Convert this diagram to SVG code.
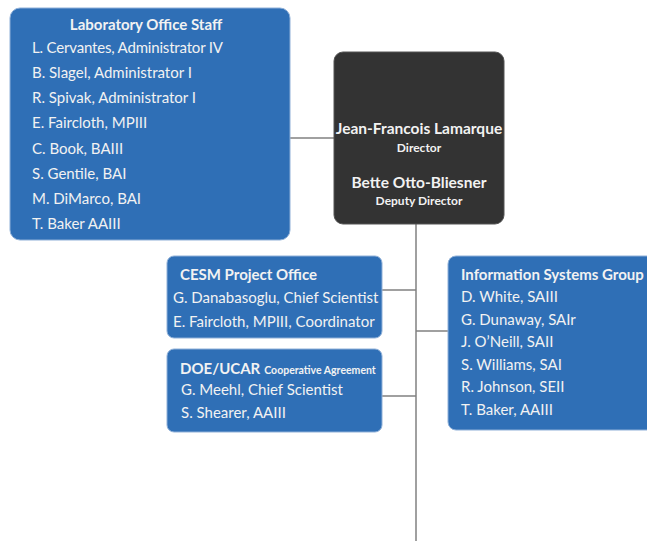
<svg xmlns="http://www.w3.org/2000/svg" width="647" height="541" viewBox="0 0 647 541">
<style>
.box{fill:#2f6fb6;stroke:#8fb0d8;stroke-width:1}
.dir{fill:#333333;stroke:#555;stroke-width:1}
text{font-family:"Lato","Open Sans","Liberation Sans",sans-serif;fill:#f2f2f2}
.t{font-size:15px;font-weight:bold}
.n{font-size:15px}
.s{font-size:11px;font-weight:bold}
.dt{font-size:15.5px;font-weight:bold}
.ds{font-size:12px;font-weight:bold}
.c line{stroke:#808080;stroke-width:1.5}
</style>
<rect width="647" height="541" fill="#ffffff"/>
<g class="c" id="connectors">
<line x1="290" y1="138" x2="334" y2="138"/>
<line x1="416" y1="224" x2="416" y2="541"/>
<line x1="382" y1="290" x2="416" y2="290"/>
<line x1="382" y1="396" x2="416" y2="396"/>
<line x1="416" y1="331" x2="448" y2="331"/>
</g>
<g id="lab">
<rect class="box" x="10" y="8" width="280" height="232" rx="10"/>
<text class="t" x="146" y="30" text-anchor="middle">Laboratory Office Staff</text>
<text class="n" x="32" y="53" textLength="191">L. Cervantes, Administrator IV</text>
<text class="n" x="32" y="78">B. Slagel, Administrator I</text>
<text class="n" x="32" y="103">R. Spivak, Administrator I</text>
<text class="n" x="32" y="128">E. Faircloth, MPIII</text>
<text class="n" x="32" y="154">C. Book, BAIII</text>
<text class="n" x="32" y="179">S. Gentile, BAI</text>
<text class="n" x="32" y="204">M. DiMarco, BAI</text>
<text class="n" x="32" y="229">T. Baker AAIII</text>
</g>
<g id="director">
<rect class="dir" x="334" y="52" width="170" height="172" rx="9"/>
<text class="dt" x="419" y="134" text-anchor="middle">Jean-Francois Lamarque</text>
<text class="ds" x="419" y="152" text-anchor="middle">Director</text>
<text class="dt" x="419" y="188" text-anchor="middle">Bette Otto-Bliesner</text>
<text class="ds" x="419" y="205" text-anchor="middle">Deputy Director</text>
</g>
<g id="cesm">
<rect class="box" x="167" y="256" width="215" height="82" rx="7"/>
<text class="t" x="180" y="280">CESM Project Office</text>
<text class="n" x="173" y="303">G. Danabasoglu, Chief Scientist</text>
<text class="n" x="173" y="327">E. Faircloth, MPIII, Coordinator</text>
</g>
<g id="doe">
<rect class="box" x="167" y="349" width="215" height="83" rx="7"/>
<text x="180" y="374"><tspan class="t">DOE/UCAR</tspan><tspan style="font-size:10.5px;font-weight:bold" dx="4">Cooperative Agreement</tspan></text>
<text class="n" x="181" y="395">G. Meehl, Chief Scientist</text>
<text class="n" x="181" y="418">S. Shearer, AAIII</text>
</g>
<g id="isg">
<rect class="box" x="448" y="256" width="210" height="174" rx="8"/>
<text class="t" x="461" y="280">Information Systems Group</text>
<text class="n" x="461" y="302">D. White, SAIII</text>
<text class="n" x="461" y="325">G. Dunaway, SAIr</text>
<text class="n" x="461" y="347">J. O’Neill, SAII</text>
<text class="n" x="461" y="370">S. Williams, SAI</text>
<text class="n" x="461" y="392">R. Johnson, SEII</text>
<text class="n" x="461" y="415">T. Baker, AAIII</text>
</g>
</svg>
